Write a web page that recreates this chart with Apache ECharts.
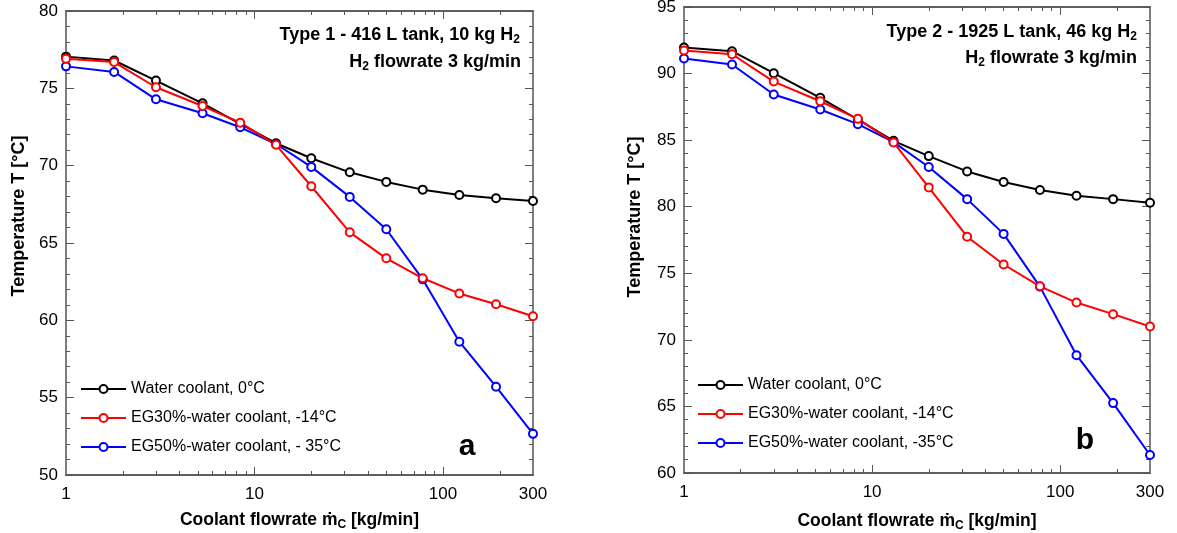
<!DOCTYPE html>
<html>
<head>
<meta charset="utf-8">
<script src="https://cdn.jsdelivr.net/npm/echarts@6.0.0/dist/echarts.min.js"></script>
<style>
html,body{margin:0;padding:0;background:#fff;}
#chart{width:1177px;height:533px;}
</style>
</head>
<body>
<div id="chart"></div>
<script>
// coolant flowrate [kg/min]
const flowrate = [1, 1.8, 3, 5.3, 8.4, 13, 20, 32, 50, 78, 122, 191, 300];

// panel a: Type 1 - 416 L tank
const a_water = [77.05, 76.8, 75.5, 74.03, 72.7, 71.45, 70.48, 69.57, 68.95, 68.45, 68.1, 67.89, 67.72];
const a_eg30  = [76.92, 76.7, 75.07, 73.86, 72.78, 71.35, 68.67, 65.69, 64.01, 62.72, 61.74, 61.04, 60.26];
const a_eg50  = [76.42, 76.06, 74.29, 73.39, 72.48, 71.4, 69.92, 67.98, 65.89, 62.65, 58.62, 55.71, 52.66];

// panel b: Type 2 - 1925 L tank
const b_water = [91.95, 91.68, 90.03, 88.18, 86.55, 84.95, 83.8, 82.65, 81.85, 81.25, 80.82, 80.57, 80.3];
const b_eg30  = [91.73, 91.45, 89.4, 87.92, 86.6, 84.83, 81.45, 77.75, 75.66, 74.02, 72.8, 71.93, 71.0];
const b_eg50  = [91.13, 90.68, 88.43, 87.3, 86.2, 84.85, 82.98, 80.57, 77.96, 74.0, 68.85, 65.25, 61.35];

const xLabels = [1, 10, 100, 300];
const xMajor = [10, 100];
const xMinor = [2, 3, 4, 5, 6, 7, 8, 9, 20, 30, 40, 50, 60, 70, 80, 90, 200];

const namesA = ['Water coolant, 0°C', 'EG30%-water coolant, -14°C', 'EG50%-water coolant, - 35°C'];
const namesB = ['Water coolant, 0°C', 'EG30%-water coolant, -14°C', 'EG50%-water coolant, -35°C'];

const FONT = 'Liberation Sans, Arial, sans-serif';
const frameColor = '#555';

const chart = echarts.init(document.getElementById('chart'));

// x axes of one grid: bottom (labels+major), bottom minor, top major, top minor
function xAxes(gi) {
    const base = {
        type: 'log', logBase: 10, min: 1, max: 300, gridIndex: gi,
        splitLine: { show: false },
        axisLine: { show: true, lineStyle: { color: frameColor, width: 1.5 } }
    };
    return [
        Object.assign({}, base, {
            position: 'bottom',
            name: 'Coolant flowrate ṁ{sub|C} [kg/min]',
            nameLocation: 'middle',
            nameGap: gi === 0 ? 35 : 38,
            nameTextStyle: {
                fontFamily: FONT, fontSize: 17.5, fontWeight: 'bold', color: '#000',
                rich: { sub: { fontFamily: FONT, fontSize: 12, fontWeight: 'bold', color: '#000', padding: [9, 0, 0, 0] } }
            },
            axisLabel: { customValues: xLabels, fontFamily: FONT, fontSize: 17, color: '#000', margin: 11 },
            axisTick: { customValues: xMajor, inside: true, length: 8, lineStyle: { color: frameColor } }
        }),
        Object.assign({}, base, {
            position: 'bottom',
            axisLabel: { show: false },
            axisTick: { customValues: xMinor, inside: true, length: 4, lineStyle: { color: frameColor } }
        }),
        Object.assign({}, base, {
            position: 'top',
            axisLabel: { show: false },
            axisTick: { customValues: xMajor, inside: true, length: 8, lineStyle: { color: frameColor } }
        }),
        Object.assign({}, base, {
            position: 'top',
            axisLabel: { show: false },
            axisTick: { customValues: xMinor, inside: true, length: 4, lineStyle: { color: frameColor } }
        })
    ];
}

function yAxes(gi, min, max, gap, shift) {
    const base = {
        type: 'value', min: min, max: max, interval: 5, gridIndex: gi,
        splitLine: { show: false },
        axisLine: { show: true, lineStyle: { color: frameColor, width: 1.5 } },
        axisTick: { inside: true, length: 8, lineStyle: { color: frameColor } },
        minorTick: { show: true, splitNumber: 5, length: 4, lineStyle: { color: frameColor } }
    };
    return [
        Object.assign({}, base, {
            position: 'left',
            name: 'Temperature T [°C]',
            nameLocation: 'middle',
            nameGap: gap,
            nameTextStyle: { fontFamily: FONT, fontSize: 18, fontWeight: 'bold', color: '#000', padding: [0, 0, 0, shift] },
            axisLabel: { fontFamily: FONT, fontSize: 17, color: '#000', margin: 8 }
        }),
        Object.assign({}, base, {
            position: 'right',
            axisLabel: { show: false }
        })
    ];
}

function lineSeries(name, color, ys, xi, yi) {
    return {
        name: name, type: 'line',
        xAxisIndex: xi, yAxisIndex: yi,
        data: flowrate.map((x, i) => [x, ys[i]]),
        symbol: 'emptyCircle', symbolSize: 8,
        lineStyle: { color: color, width: 2 },
        itemStyle: { color: color, borderWidth: 1 },
        clip: false
    };
}

function legendOf(names, left, top) {
    return {
        orient: 'vertical', left: left, top: top, padding: 0,
        itemWidth: 45, itemHeight: 10, itemGap: 13,
        data: names,
        textStyle: { fontFamily: FONT, fontSize: 16, color: '#000' },
        selectedMode: false
    };
}

const richSub = {
    sub: { fontFamily: FONT, fontSize: 12, fontWeight: 'bold', fill: '#000', padding: [9, 0, 0, 0] }
};
function note(text, x, y) {
    return {
        type: 'text', x: x, y: y,
        style: {
            text: text, align: 'right', verticalAlign: 'middle',
            fontFamily: FONT, fontSize: 18, fontWeight: 'bold', fill: '#000',
            rich: richSub
        }
    };
}
function letter(text, x, y) {
    return {
        type: 'text', x: x, y: y,
        style: { text: text, align: 'center', verticalAlign: 'middle', fontFamily: FONT, fontSize: 30, fontWeight: 'bold', fill: '#000' }
    };
}

const option = {
    backgroundColor: '#fff',
    animation: false,
    grid: [
        { left: 66, top: 11, width: 467, height: 464, show: false, outerBoundsMode: 'none' },
        { left: 684, top: 7, width: 466, height: 466, show: false, outerBoundsMode: 'none' }
    ],
    xAxis: xAxes(0).concat(xAxes(1)),
    yAxis: yAxes(0, 50, 80, 38, 54).concat(yAxes(1, 60, 95, 40, 46)),
    legend: [legendOf(namesA, 80, 381), legendOf(namesB, 697, 377)],
    series: [
        lineSeries(namesA[0], '#000000', a_water, 0, 0),
        lineSeries(namesA[2], '#0000ff', a_eg50, 0, 0),
        lineSeries(namesA[1], '#ff0000', a_eg30, 0, 0),
        lineSeries(namesB[0], '#000000', b_water, 4, 2),
        lineSeries(namesB[2], '#0000ff', b_eg50, 4, 2),
        lineSeries(namesB[1], '#ff0000', b_eg30, 4, 2)
    ],
    graphic: [
        note('Type 1 - 416 L tank, 10 kg H{sub|2}', 520, 35),
        note('H{sub|2} flowrate 3 kg/min', 521, 62),
        note('Type 2 - 1925 L tank, 46 kg H{sub|2}', 1137, 32),
        note('H{sub|2} flowrate 3 kg/min', 1137, 58),
        letter('a', 467, 447),
        letter('b', 1085, 441)
    ]
};
chart.setOption(option);
</script>
</body>
</html>
